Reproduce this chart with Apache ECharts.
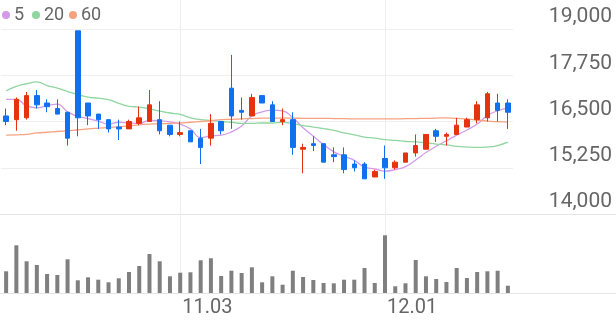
<!DOCTYPE html>
<html><head><meta charset="utf-8">
<script src="https://cdn.jsdelivr.net/npm/echarts@6/dist/echarts.min.js"></script>
<style>html,body{margin:0;padding:0;background:#fff}#c{width:616px;height:321px}</style>
</head><body><div id="c"></div>
<script>
const dates = ['10.02','10.10','10.13','10.14','10.15','10.16','10.17','10.20','10.21','10.22','10.23','10.24','10.27','10.28','10.29','10.30','10.31','11.03','11.04','11.05','11.06','11.07','11.10','11.11','11.12','11.13','11.14','11.17','11.18','11.19','11.20','11.21','11.24','11.25','11.26','11.27','11.28','12.01','12.02','12.03','12.04','12.05','12.08','12.09','12.10','12.11','12.12','12.15','12.16','12.17'];
const opens  = [16650,16550,16600,17200,17000,16850,16750,18950,17000,16700,16550,16350,16300,16450,16500,16550,16400,16150,16250,16050,16050,16500,17400,16800,16650,17200,16950,16500,16550,15750,15900,15900,15600,15600,15350,15350,15000,15500,15250,15400,15650,15750,16250,16100,16150,16350,16550,16600,17000,17000];
const closes = [16500,17100,17200,16950,16900,16700,16050,16600,16650,16550,16300,16300,16500,16600,16950,16250,16150,16200,15950,15800,16450,16250,16650,16750,17150,17000,16500,16550,15800,15800,15850,15400,15550,15200,15250,14950,15150,15250,15400,15650,15850,16150,16100,16150,16400,16550,16950,17250,16800,16750];
const lows   = [16400,16250,16550,16850,16750,16700,15850,16100,16400,16300,16200,16000,16300,16400,16500,16150,16100,16100,15950,15350,15850,16150,16300,16550,16650,17000,16500,16400,15600,15100,15700,15400,15400,15100,15150,14950,15000,14950,15200,15400,15550,15750,15950,15850,16150,16350,16450,16500,16500,16300];
const highs  = [16850,17150,17300,17350,17100,17100,16750,18950,17000,16700,16550,16550,16550,16900,17350,17050,16400,16500,16250,16300,16700,16500,18300,17150,17250,17200,17050,16850,16750,15900,16100,15900,15800,15800,15450,15400,15200,15850,15450,15650,16150,16150,16300,16200,16600,16600,17050,17300,17250,17100];
const ma5  = [17100,17100,16920,16870,16930,16970,16760,16640,16580,16510,16430,16480,16460,16450,16530,16520,16490,16430,16300,16070,16110,16130,16220,16380,16650,16760,16810,16790,16600,16330,16100,15880,15680,15560,15450,15270,15220,15160,15200,15280,15460,15660,15830,15980,16130,16270,16430,16660,16790,16860];
const ma20 = [17330,17450,17520,17570,17470,17400,17310,17230,17160,17130,17090,16990,16910,16890,16840,16780,16730,16690,16600,16550,16530,16500,16480,16450,16450,16460,16460,16480,16440,16390,16350,16310,16260,16190,16140,16080,16050,16010,15990,15960,15950,15920,15890,15870,15830,15810,15800,15810,15850,15940];
const ma60 = [16130,16140,16150,16190,16210,16230,16250,16270,16300,16320,16340,16360,16380,16410,16430,16440,16450,16460,16480,16500,16520,16550,16560,16570,16580,16590,16590,16590,16590,16585,16585,16585,16580,16575,16570,16570,16570,16570,16570,16575,16580,16585,16590,16600,16585,16570,16540,16510,16495,16485];
const volumes = [217000,477000,317000,280000,190000,180000,337000,127000,157000,133000,107000,147000,210000,270000,390000,317000,167000,203000,207000,327000,347000,170000,223000,200000,257000,107000,167000,83000,223000,160000,130000,100000,97000,133000,133000,250000,100000,577000,67000,97000,330000,167000,140000,110000,250000,150000,210000,217000,223000,73000];
const priceTicks = [14000,15250,16500,17750,19000];
const dateTicks = ['11.03','12.01'];
const maNames = ['5','20','60'];

const UP = '#e6330f', DOWN = '#1170f0';
const MA_COLORS = ['#d39aea','#8fd6a0','#f7a27f'];
const FONT = 'Roboto';
const GRID_L = 1, GRID_R = 103;

const candleData = opens.map((o, i) => [o, closes[i], lows[i], highs[i]]);
const maData = [ma5, ma20, ma60];

const chart = echarts.init(document.getElementById('c'), null, {renderer: 'canvas'});
const option = {
  animation: false,
  backgroundColor: '#fff',
  textStyle: {fontFamily: FONT},
  legend: maNames.map((n, i) => ({
    data: [n], left: [2, 32, 69][i], top: 6, padding: 0,
    icon: 'circle', itemWidth: 8, itemHeight: 8,
    textStyle: {fontFamily: FONT, fontSize: 18, color: '#666', padding: [0,0,0,-1]},
    selectedMode: false
  })),
  grid: [
    {left: GRID_L, right: GRID_R, top: 29, height: 185},
    {left: GRID_L, right: GRID_R, top: 214, height: 79},
    {left: GRID_L, right: GRID_R, top: 0, height: 294},
    {left: 0, right: 0, top: 214, height: 79}
  ],
  xAxis: [
    {type: 'category', data: dates, gridIndex: 0, axisLine: {show: false}, axisTick: {show: false}, axisLabel: {show: false}, splitLine: {show: false}},
    {type: 'category', data: dates, gridIndex: 1, axisLine: {show: false}, axisTick: {show: false},
     axisLabel: {show: true, interval: (i, v) => dateTicks.includes(v), align: 'left', padding: [0,0,0,2], margin: 5,
       fontFamily: FONT, fontSize: 20, color: '#666'}, splitLine: {show: false}},
    {type: 'category', data: dates, gridIndex: 2, show: false},
    {type: 'value', gridIndex: 3, show: false, min: 0, max: 1}
  ],
  yAxis: [
    {type: 'value', gridIndex: 0, position: 'right', min: 14000, max: 19000, scale: true,
     axisLine: {show: false}, axisTick: {show: false, customValues: priceTicks},
     axisLabel: {customValues: priceTicks, align: 'right', margin: 99, verticalAlign: 'bottom', lineHeight: 20, padding: [0,0,2,0],
       fontFamily: FONT, fontSize: 21, color: '#666', formatter: v => Number(v).toLocaleString('en-US')},
     splitLine: {show: true, lineStyle: {color: '#efefef', width: 1}}},
    {type: 'value', gridIndex: 1, min: 0, max: 790000, show: false, splitLine: {show: false}},
    {type: 'value', gridIndex: 2, min: 0, max: 1, show: false},
    {type: 'value', gridIndex: 3, min: 0, max: 1, interval: 1, axisLine: {show: false}, axisTick: {show: false}, axisLabel: {show: false},
     splitLine: {show: true, lineStyle: {color: '#e4e4e4', width: 1}}}
  ],
  series: [
    {type: 'line', xAxisIndex: 2, yAxisIndex: 2, data: [], z: 0, silent: true,
     markLine: {silent: true, z: 0, symbol: 'none', label: {show: false}, lineStyle: {color: '#eeeeee', width: 1, type: 'solid'},
       data: dateTicks.map(d => ({xAxis: d}))}},
    {type: 'line', xAxisIndex: 3, yAxisIndex: 3, data: [], silent: true, z: 0},
    {type: 'bar', xAxisIndex: 1, yAxisIndex: 1, data: volumes, barWidth: 4, z: 8, itemStyle: {color: '#7f7f7f'}, silent: true},
    {type: 'candlestick', xAxisIndex: 0, yAxisIndex: 0, data: candleData, barWidth: 5, z: 8,
     itemStyle: {color: UP, color0: DOWN, borderColor: UP, borderColor0: DOWN, borderWidth: 1}},
    ...maNames.map((n, i) => ({
      name: n, type: 'line', xAxisIndex: 0, yAxisIndex: 0, data: maData[i], smooth: true, showSymbol: false, symbol: 'none',
      z: 7, itemStyle: {color: MA_COLORS[i]}, lineStyle: {color: MA_COLORS[i], width: 1.3}
    }))
  ]
};
chart.setOption(option);
</script>
</body></html>
